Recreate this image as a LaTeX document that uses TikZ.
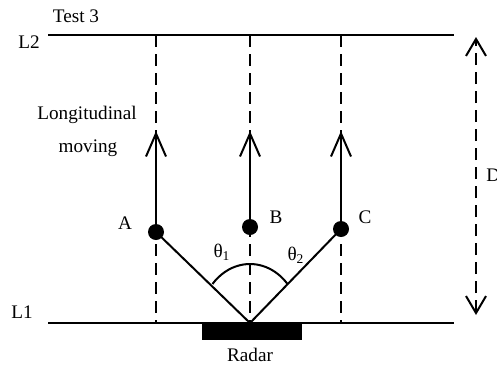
\documentclass[tikz,border=0pt]{standalone}
\usepackage{fontspec}
\setmainfont{Liberation Serif}
\usetikzlibrary{arrows.meta}

\tikzset{
  track/.style={line width=1pt, dash pattern=on 6pt off 3.5pt},
  solid line/.style={line width=1pt},
  target/.style={circle, fill=black, inner sep=0pt, minimum size=8pt},
  lbl/.style={font=\fontsize{9.6}{11}\selectfont, inner sep=0pt},
  vee/.style={-{Straight Barb[length=11.5pt,width=10pt,line width=1pt]}},
  vees/.style={{Straight Barb[length=8.5pt,width=10pt,line width=1pt]}-{Straight Barb[length=8.5pt,width=10pt,line width=1pt]}}
}

\begin{document}
\begin{tikzpicture}[x=0.5pt, y=0.5pt]
    \useasboundingbox (0, 0) rectangle (497, 366);

    % Boundary lines
    \coordinate (l2w) at (48, 331);
    \coordinate (l2e) at (454, 331);
    \coordinate (l1w) at (48, 43);
    \coordinate (l1e) at (454, 43);
    \draw[solid line] (l2w) -- (l2e);
    \draw[solid line] (l1w) -- (l1e);
    \node[lbl] (l2) at (29, 324) {L2};
    \node[lbl] (l1) at (22, 54) {L1};
    \node[lbl] (test) at (76, 350) {Test 3};

    % Radar
    \fill (202, 26) rectangle (302, 43);
    \coordinate (rad) at (250, 43);
    \node[lbl] (radar) at (250, 11) {Radar};

    % Tracks
    \foreach \n/\x in {a/156, b/250, c/341} {
        \coordinate (\n top) at (\x, 331);
        \coordinate (\n bot) at (\x, 43);
        \coordinate (\n tip) at (\x, 235);
        \draw[track] (\n top) -- (\n bot);
    }

    % Targets
    \node[target] (A) at (156, 134) {};
    \node[target] (B) at (250, 139) {};
    \node[target] (C) at (341, 137) {};
    \draw[solid line, vee] (A.center) -- (atip);
    \draw[solid line, vee] (B.center) -- (btip);
    \draw[solid line, vee] (C.center) -- (ctip);
    \node[lbl] (la) at (125, 143) {A};
    \node[lbl] (lb) at (276, 149) {B};
    \node[lbl] (lc) at (365, 149) {C};

    % Lines of sight and angles
    \draw[solid line] (rad) -- (A.center);
    \draw[solid line] (rad) -- (C.center);
    \draw[solid line] ([shift={(41.4:50 and 59)}]rad) arc[start angle=41.4, end angle=138.6, x radius=50, y radius=59];
    \node[lbl] (th1) at (222, 114) {θ\textsubscript{1}};
    \node[lbl] (th2) at (296, 111) {θ\textsubscript{2}};

    \node[lbl] (lon1) at (87, 251) {Longitudinal};
    \node[lbl] (lon2) at (88, 218) {moving};

    % Distance
    \coordinate (dtop) at (476, 329);
    \coordinate (dbot) at (476, 51);
    \draw[track, vees] (dbot) -- (dtop);
    \node[lbl, anchor=west] (d) at (486, 191) {D};
\end{tikzpicture}
\end{document}
